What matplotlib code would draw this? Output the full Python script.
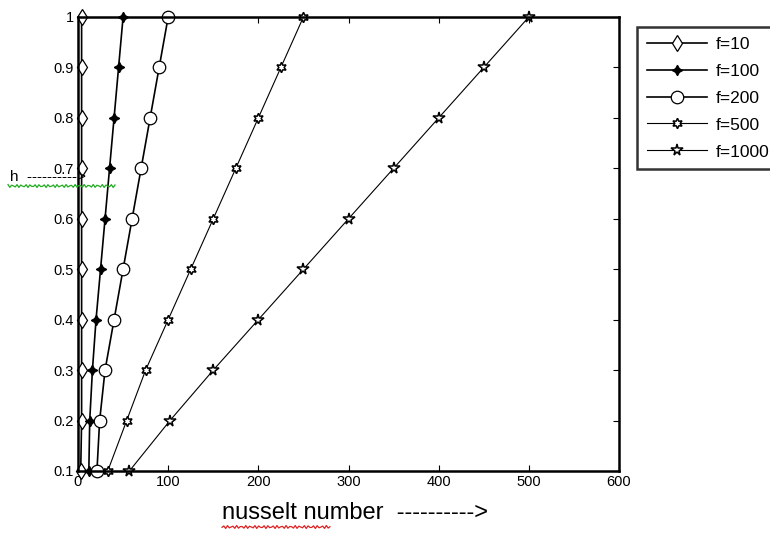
#!/usr/bin/env python3
import numpy as np
import matplotlib
matplotlib.use('Agg')
import matplotlib.pyplot as plt

plt.rcParams['font.family'] = ['Liberation Sans', 'DejaVu Sans']

# data
h = [0.1, 0.2, 0.3, 0.4, 0.5, 0.6, 0.7, 0.8, 0.9, 1.0]
nu_f10 = [3, 4, 4, 4, 4, 4, 4, 4, 4, 4]
nu_f100 = [12, 13, 16, 20, 25, 30, 35, 40, 45, 50]
nu_f200 = [21, 24, 30, 40, 50, 60, 70, 80, 90, 100]
nu_f500 = [33, 54, 75, 100, 125, 150, 175, 200, 225, 250]
nu_f1000 = [57, 102, 150, 200, 250, 300, 350, 400, 450, 500]
labels = ['f=10', 'f=100', 'f=200', 'f=500', 'f=1000']
xticks = [0, 100, 200, 300, 400, 500, 600]
yticks = [0.1, 0.2, 0.3, 0.4, 0.5, 0.6, 0.7, 0.8, 0.9, 1.0]
yticklabels = ['0.1', '0.2', '0.3', '0.4', '0.5', '0.6', '0.7', '0.8', '0.9', '1']

W, H = 770, 535
fig = plt.figure(figsize=(W / 100, H / 100), dpi=100)
ax = fig.add_axes([78 / W, 1 - 471 / H, (619 - 78) / W, (471 - 17) / H])

series = [nu_f10, nu_f100, nu_f200, nu_f500, nu_f1000]
styles = [
    dict(marker='d', ms=8, lw=1.2, mfc='white', mew=0.9),
    dict(marker=(4, 1, 0), ms=7.5, lw=1.2, mfc='black', mew=0.9),
    dict(marker='o', ms=9, lw=1.2, mfc='white', mew=0.9),
    dict(marker=(6, 1, 0), ms=7.5, lw=0.8, mfc='white', mew=1.1),
    dict(marker='*', ms=8.5, lw=0.8, mfc='white', mew=1.1),
]
for nu, lab, st in zip(series, labels, styles):
    ax.plot(nu, h, color='black', mec='black', label=lab, clip_on=False, **st)

ax.set_xlim(0, 600)
ax.set_ylim(0.1, 1.0)
ax.set_xticks(xticks)
ax.set_yticks(yticks)
ax.set_yticklabels(yticklabels)
ax.tick_params(direction='in', length=4, width=0.8, labelsize=10.5, pad=3,
               top=True, right=True)
for s in ax.spines.values():
    s.set_linewidth(1.8)

leg = ax.legend(loc='upper left', bbox_to_anchor=(637 / W, 1 - 27 / H),
                bbox_transform=fig.transFigure, frameon=True, fancybox=False,
                fontsize=12.5, handlelength=3.5, labelspacing=0.68,
                borderpad=0.55, handletextpad=0.5, borderaxespad=0)
leg.get_frame().set_edgecolor('black')
leg.get_frame().set_linewidth(1.8)

# axis captions, typed as in the source document
fig.text(222 / W, 1 - 513 / H, 'nusselt number  ---------->', fontsize=17,
         ha='left', va='center')
fig.text(10 / W, 1 - 177 / H, 'h  ---------->', fontsize=11,
         ha='left', va='center')

# spell-check squiggles under the captions
xs = np.linspace(8, 115, 60)
fig.add_artist(plt.Line2D(xs / W, 1 - (186 + 1.5 * np.sin(xs * 1.4)) / H,
                          color='#22aa22', lw=0.9))
xs = np.linspace(222, 330, 60)
fig.add_artist(plt.Line2D(xs / W, 1 - (527 + 1.5 * np.sin(xs * 1.4)) / H,
                          color='#dd2222', lw=0.9))

fig.savefig('out.png', dpi=100)
